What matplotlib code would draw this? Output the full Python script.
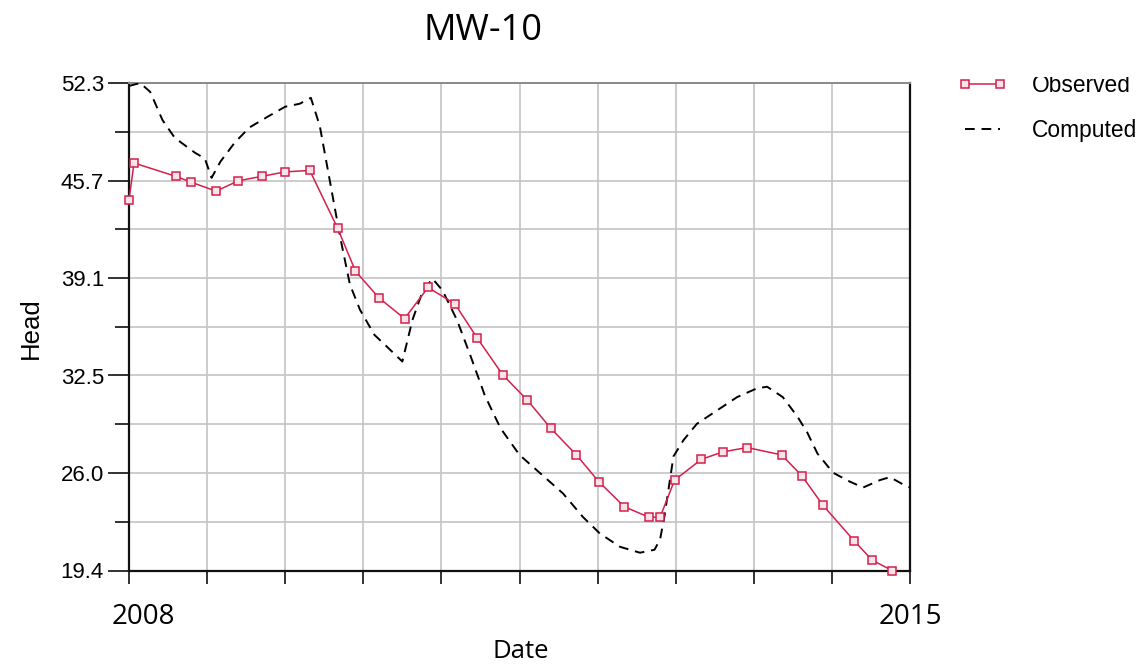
import numpy as np
import matplotlib
matplotlib.use("Agg")
import matplotlib.pyplot as plt
import matplotlib.transforms as mtransforms
from matplotlib.patches import Rectangle

# Observed heads at MW-10 (decimal year, head)
obs_t = [2008.00, 2008.045, 2008.42, 2008.56, 2008.78, 2008.98, 2009.19, 2009.40,
         2009.62, 2009.87, 2010.03, 2010.24, 2010.47, 2010.68, 2010.92, 2011.12,
         2011.35, 2011.57, 2011.78, 2012.01, 2012.21, 2012.44, 2012.66, 2012.76,
         2012.89, 2013.13, 2013.32, 2013.54, 2013.85, 2014.03, 2014.22, 2014.50,
         2014.66, 2014.84]
obs_h = [44.4, 46.9, 46.0, 45.6, 45.0, 45.7, 46.0, 46.3,
         46.4, 42.5, 39.6, 37.8, 36.4, 38.5, 37.4, 35.1,
         32.6, 30.9, 29.0, 27.2, 25.4, 23.7, 23.0, 23.0,
         25.5, 26.9, 27.4, 27.7, 27.2, 25.8, 23.8, 21.4,
         20.1, 19.4]

# Model-computed heads
comp_t = [2008.00, 2008.10, 2008.19, 2008.30, 2008.41, 2008.59, 2008.68, 2008.74,
          2008.82, 2008.95, 2009.08, 2009.26, 2009.40, 2009.53, 2009.63, 2009.71,
          2009.80, 2009.89, 2009.98, 2010.07, 2010.20, 2010.34, 2010.45, 2010.54,
          2010.63, 2010.72, 2010.81, 2010.94, 2011.06, 2011.19, 2011.33, 2011.50,
          2011.68, 2011.89, 2012.07, 2012.22, 2012.40, 2012.58, 2012.71, 2012.76,
          2012.80, 2012.88, 2012.97, 2013.09, 2013.27, 2013.45, 2013.63, 2013.72,
          2013.86, 2013.99, 2014.08, 2014.17, 2014.31, 2014.46, 2014.58, 2014.73,
          2014.82, 2014.94, 2015.00]
comp_h = [52.1, 52.3, 51.7, 49.8, 48.6, 47.6, 47.2, 45.9,
          47.0, 48.3, 49.3, 50.1, 50.7, 50.9, 51.3, 49.4,
          45.7, 42.0, 38.7, 37.0, 35.3, 34.3, 33.5, 36.3,
          38.2, 39.1, 38.3, 36.3, 33.9, 31.2, 29.0, 27.2,
          26.0, 24.6, 23.0, 21.9, 21.0, 20.6, 20.8, 21.5,
          23.1, 27.1, 28.2, 29.3, 30.2, 31.1, 31.7, 31.8,
          31.1, 29.8, 28.7, 27.3, 26.0, 25.4, 25.0, 25.5,
          25.7, 25.2, 25.0]

y_ticks = list(np.linspace(19.4, 52.3, 11))
y_labels = ["19.4", "", "26.0", "", "32.5", "", "39.1", "", "45.7", "", "52.3"]
x_ticks = list(np.linspace(2008, 2015, 11))
x_labels = ["2008", "2015"]

RED = "#d4204c"
W, H = 1144, 668

fig = plt.figure(figsize=(W / 100, H / 100), dpi=100)
ax = fig.add_axes([129 / W, 1 - 570.5 / H, (910 - 129) / W, (570.5 - 83) / H])

ax.plot(comp_t, comp_h, color="black", lw=1.4, ls=(0, (5, 3.5)),
        label="Computed", zorder=3)
ax.plot(obs_t, obs_h, color=RED, lw=1.1, marker="s", ms=5.5,
        mfc="#fbe3ea", mec=RED, mew=1.1, label="Observed", zorder=4,
        clip_on=False)

ax.set_xlim(2008, 2015)
ax.set_ylim(19.4, 52.3)

# y ticks: labelled majors, unlabelled minors
ax.set_yticks([t for t, l in zip(y_ticks, y_labels) if l])
ax.set_yticklabels([l for l in y_labels if l], family="Liberation Sans", fontsize=16)
ax.set_yticks([t for t, l in zip(y_ticks, y_labels) if not l], minor=True)
ax.tick_params(axis="y", which="major", length=15, width=1.3, pad=3, color="#222222")
ax.tick_params(axis="y", which="minor", length=10, width=1.3, color="#222222")

# x ticks: labels only at the ends
ax.set_xticks([x_ticks[0], x_ticks[-1]])
ax.set_xticklabels(x_labels, family="Open Sans", fontsize=20)
ax.set_xticks(x_ticks[1:-1], minor=True)
ax.tick_params(axis="x", which="both", length=9.5, width=1.3, pad=14, color="#222222")
first = ax.get_xticklabels()[0]
first.set_transform(first.get_transform() +
                    mtransforms.ScaledTranslation(14 / 100, 0, fig.dpi_scale_trans))

ax.grid(True, which="both", color="#c4c4c4", lw=1.2)
ax.set_axisbelow(True)
for side in ("left", "bottom", "right"):
    ax.spines[side].set_color("#111111")
    ax.spines[side].set_linewidth(1.6)
ax.spines["top"].set_color("#8a8a8a")
ax.spines["top"].set_linewidth(1.4)

fig.text(483 / W, 1 - 31 / H, "MW-10", family="Open Sans", fontsize=26,
         ha="center", va="center")
fig.text(521 / W, 1 - 652 / H, "Date", family="Open Sans", fontsize=18.5,
         ha="center", va="center")
fig.text(31 / W, 1 - 328 / H, "Head", family="Liberation Sans", fontsize=18.5,
         rotation=90, ha="center", va="center")

handles, labels = ax.get_legend_handles_labels()
order = [labels.index("Observed"), labels.index("Computed")]
fig.legend([handles[i] for i in order], [labels[i] for i in order],
           loc="upper left", bbox_to_anchor=(958 / W, 1 - 74 / H),
           frameon=False, borderpad=0, borderaxespad=0, numpoints=2,
           handlelength=2.15, handletextpad=1.1, labelspacing=0.95,
           prop={"family": "Liberation Sans", "size": 16.4})

# the legend block is cut off along the top edge of the page
fig.patches.append(Rectangle((915 / W, 1 - 77 / H), (W - 915) / W, 77 / H,
                             transform=fig.transFigure, facecolor="white",
                             edgecolor="none", zorder=10))

fig.savefig("out.png", dpi=100)
